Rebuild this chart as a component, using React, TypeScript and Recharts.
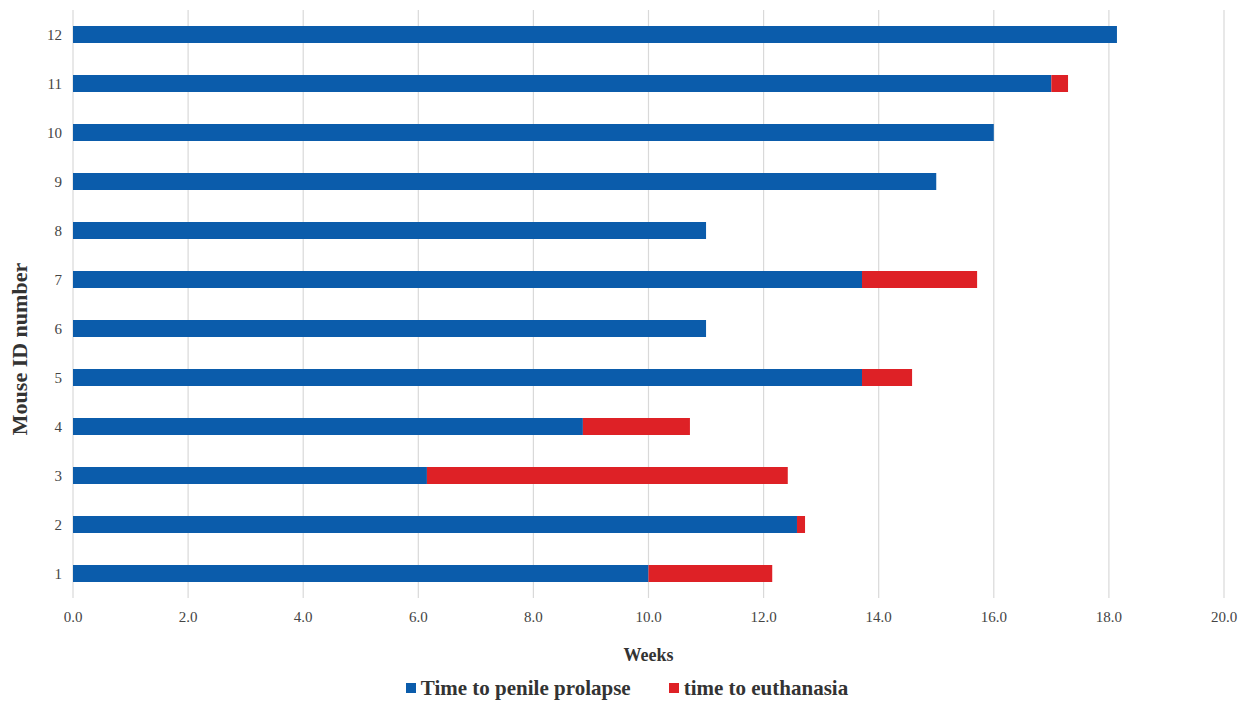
import { BarChart, Bar, XAxis, YAxis, CartesianGrid, Legend } from "recharts";

const mouseIds = ["1", "2", "3", "4", "5", "6", "7", "8", "9", "10", "11", "12"];
const prolapseWeeks = [10.0, 12.58, 6.15, 8.86, 13.71, 11.0, 13.71, 11.0, 15.0, 16.0, 17.0, 18.14];
const euthanasiaWeeks = [2.15, 0.14, 6.27, 1.86, 0.87, 0, 2.0, 0, 0, 0, 0.29, 0];
const weekTicks = [0, 2, 4, 6, 8, 10, 12, 14, 16, 18, 20];

const data = mouseIds.map((id, i) => ({
  id,
  prolapse: prolapseWeeks[i],
  euthanasia: euthanasiaWeeks[i],
}));

const font = "'Liberation Serif', 'Times New Roman', serif";
const BLUE = "#0B5CAB";
const RED = "#DE2126";

const renderLegend = (props: any) => {
  const items = props.payload || [];
  return (
    <div
      style={{
        display: "flex",
        justifyContent: "center",
        alignItems: "center",
        height: 30,
        fontFamily: font,
        fontSize: 21,
        fontWeight: "bold",
        color: "#333",
        paddingLeft: 30,
      }}
    >
      {items.map((it: any, i: number) => (
        <div key={i} style={{ display: "flex", alignItems: "center", marginRight: i === 0 ? 38 : 0 }}>
          <span style={{ display: "inline-block", width: 10, height: 10, background: it.color, marginRight: 5 }} />
          <span>{it.value}</span>
        </div>
      ))}
    </div>
  );
};

export default function App() {
  return (
    <div style={{ position: "absolute", left: 0, top: 0, background: "#fff", fontFamily: font }}>
      <BarChart
        width={1247}
        height={703}
        data={data}
        layout="vertical"
        margin={{ top: 10, right: 23, bottom: 0, left: 0 }}
        style={{ fontFamily: font }}
      >
        <CartesianGrid horizontal={false} stroke="#d9d9d9" strokeWidth={1.2} />
        <XAxis
          type="number"
          domain={[0, 20]}
          ticks={weekTicks}
          tickFormatter={(v: number) => v.toFixed(1)}
          axisLine={false}
          tickLine={false}
          tickMargin={7}
          height={75}
          tick={{ fill: "#444", fontSize: 15, fontFamily: font }}
          label={{
            value: "Weeks",
            position: "insideBottom",
            offset: 12,
            fill: "#333",
            fontSize: 18,
            fontWeight: "bold",
            fontFamily: font,
          }}
        />
        <YAxis
          type="category"
          dataKey="id"
          reversed
          width={73}
          axisLine={false}
          tickLine={false}
          tickMargin={5}
          tick={{ fill: "#444", fontSize: 15, fontFamily: font }}
          label={{
            content: (props: any) => {
              const vb = props.viewBox || {};
              const cy = (vb.y ?? 0) + (vb.height ?? 0) / 2 + 45;
              return (
                <text
                  x={27}
                  y={cy}
                  transform={`rotate(-90, 27, ${cy})`}
                  textAnchor="middle"
                  fill="#333"
                  fontSize={22}
                  fontWeight="bold"
                  fontFamily={font}
                >
                  Mouse ID number
                </text>
              );
            },
          }}
        />
        <Legend verticalAlign="bottom" height={30} content={renderLegend} />
        <Bar
          dataKey="prolapse"
          name="Time to penile prolapse"
          stackId="a"
          fill={BLUE}
          barSize={17}
          isAnimationActive={false}
        />
        <Bar
          dataKey="euthanasia"
          name="time to euthanasia"
          stackId="a"
          fill={RED}
          barSize={17}
          isAnimationActive={false}
        />
      </BarChart>
    </div>
  );
}
